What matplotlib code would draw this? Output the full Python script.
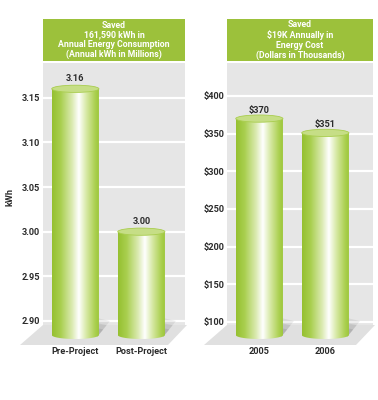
import numpy as np
import matplotlib
matplotlib.use("Agg")
import matplotlib.pyplot as plt
from matplotlib.colors import LinearSegmentedColormap
from matplotlib.patches import Ellipse, PathPatch, Polygon, Rectangle
from matplotlib.path import Path

# data
energy_labels = ["Pre-Project", "Post-Project"]
energy_values = [3.16, 3.00]
energy_ticks = [2.90, 2.95, 3.00, 3.05, 3.10, 3.15]

cost_labels = ["2005", "2006"]
cost_values = [370, 351]
cost_ticks = [100, 150, 200, 250, 300, 350, 400]

energy_title = "Saved\n161,590 kWh in\nAnnual Energy Consumption\n(Annual kWh in Millions)"
cost_title = "Saved\n$19K Annually in\nEnergy Cost\n(Dollars in Thousands)"

plt.rcParams['font.family'] = ['Roboto', 'DejaVu Sans']

W, H = 378, 400
GREEN = "#9cc13b"
BG = "#e6e6e6"
FLOOR = "#e0e0e0"
TXT = "#2b2b2b"
FS = 6.6

bar_cmap = LinearSegmentedColormap.from_list("cyl", [
    (0.00, "#95c030"),
    (0.18, "#a9cf4f"),
    (0.42, "#dbeab2"),
    (0.56, "#ffffff"),
    (0.72, "#d6e8a4"),
    (0.90, "#abd050"),
    (1.00, "#99c435"),
])

fig = plt.figure(figsize=(W / 100, H / 100), dpi=100)


def fx(px):
    return px / W


def fy(py):
    return 1 - py / H


def panel(left, right, ylim, values, labels, ticks, fmt, title, label_off, ylabel=None):
    # plot area from y=63 to y=325 (pixels)
    ax = fig.add_axes([fx(left), fy(325), fx(right - left), (325 - 63) / H])
    ax.set_facecolor(BG)
    for s in ax.spines.values():
        s.set_visible(False)
    ax.set_axisbelow(True)
    ax.yaxis.grid(True, color="white", lw=1.6)
    ax.set_yticks(ticks)
    ax.set_yticklabels([fmt(t) for t in ticks], fontsize=FS, color=TXT, fontweight="bold")
    x = np.arange(len(values))
    ax.set_xticks(x)
    ax.set_xticklabels(labels, fontsize=FS, color=TXT, fontweight="bold")
    ax.tick_params(axis="y", length=0, pad=2)
    ax.tick_params(axis="x", length=0, pad=16)
    if ylabel:
        ax.set_ylabel(ylabel, fontsize=FS, color=TXT, fontweight="bold")
        ax.yaxis.set_label_coords(-0.2, 0.49)

    ppy = (ylim[1] - ylim[0]) / 262  # data units per pixel
    ppx = 1 / 66
    base = ylim[0] - 10 * ppy
    eh = 4 * ppy
    w = 0.715

    # floor
    fl = Polygon([(fx(left), fy(325)), (fx(right + 2), fy(325)),
                  (fx(right - 17), fy(345)), (fx(left - 23), fy(345))],
                 closed=True, transform=fig.transFigure, facecolor=FLOOR,
                 edgecolor="none", zorder=-1)
    fig.add_artist(fl)

    grad = np.linspace(0, 1, 256).reshape(1, -1)
    for xi, v in zip(x, values):
        x0, x1 = xi - w / 2, xi + w / 2
        # soft shadow on floor
        for k, a in [(1.0, 0.12), (0.7, 0.15), (0.4, 0.2)]:
            sh = Polygon([(x1 - 2 * ppx, base + 17 * ppy * k), (x1 + 11 * ppx * k, base + 14 * ppy * k),
                          (x1 - 2 * ppx, base - 2 * ppy)],
                         closed=True, facecolor="#707070", alpha=a, edgecolor="none",
                         clip_on=False, zorder=1)
            ax.add_patch(sh)
        t = np.linspace(0, np.pi, 40)
        verts = [(x0, v), (x1, v)] + list(zip(xi + w / 2 * np.cos(t), base - eh * np.sin(t))) + [(x0, v)]
        codes = [Path.MOVETO] + [Path.LINETO] * (len(verts) - 2) + [Path.CLOSEPOLY]
        outline = PathPatch(Path(verts, codes), facecolor="none", edgecolor="none",
                            transform=ax.transData)
        ax.add_patch(outline)
        im = ax.imshow(grad, cmap=bar_cmap, extent=(x0, x1, base - eh, v),
                       aspect="auto", zorder=2, interpolation="bilinear")
        im.set_clip_path(outline)
        im.set_clip_box(fig.bbox)
        cap = Ellipse((xi, v), w, 2 * eh * 0.9, facecolor="#c6de86",
                      edgecolor="#a9cd4e", lw=0.6, zorder=3, clip_on=False)
        ax.add_patch(cap)
        ax.annotate(fmt(v), (xi, v), xytext=(0, label_off), textcoords="offset points",
                    ha="center", va="center", fontsize=FS, color=TXT, fontweight="bold")
    ax.set_xlim(-0.49, (right - left) / 66 - 0.49)
    ax.set_ylim(*ylim)

    # header box
    hb = Rectangle((fx(left), fy(61)), fx(right - left), 42 / H, transform=fig.transFigure,
                   facecolor=GREEN, edgecolor="none")
    fig.add_artist(hb)
    fig.text(fx((left + right) / 2), fy(40), title, ha="center", va="center",
             fontsize=6.3, color="white", fontweight="bold", linespacing=1.1)
    return ax


panel(43, 185, (2.8955, 3.1889), energy_values, energy_labels, energy_ticks,
      lambda v: f"{v:.2f}", energy_title, 7.5, ylabel="kWh")
panel(227, 373, (96.0, 443.8), cost_values, cost_labels, cost_ticks,
      lambda v: f"${v:.0f}", cost_title, 6.0)

fig.savefig("out.png", dpi=100, facecolor="white")
